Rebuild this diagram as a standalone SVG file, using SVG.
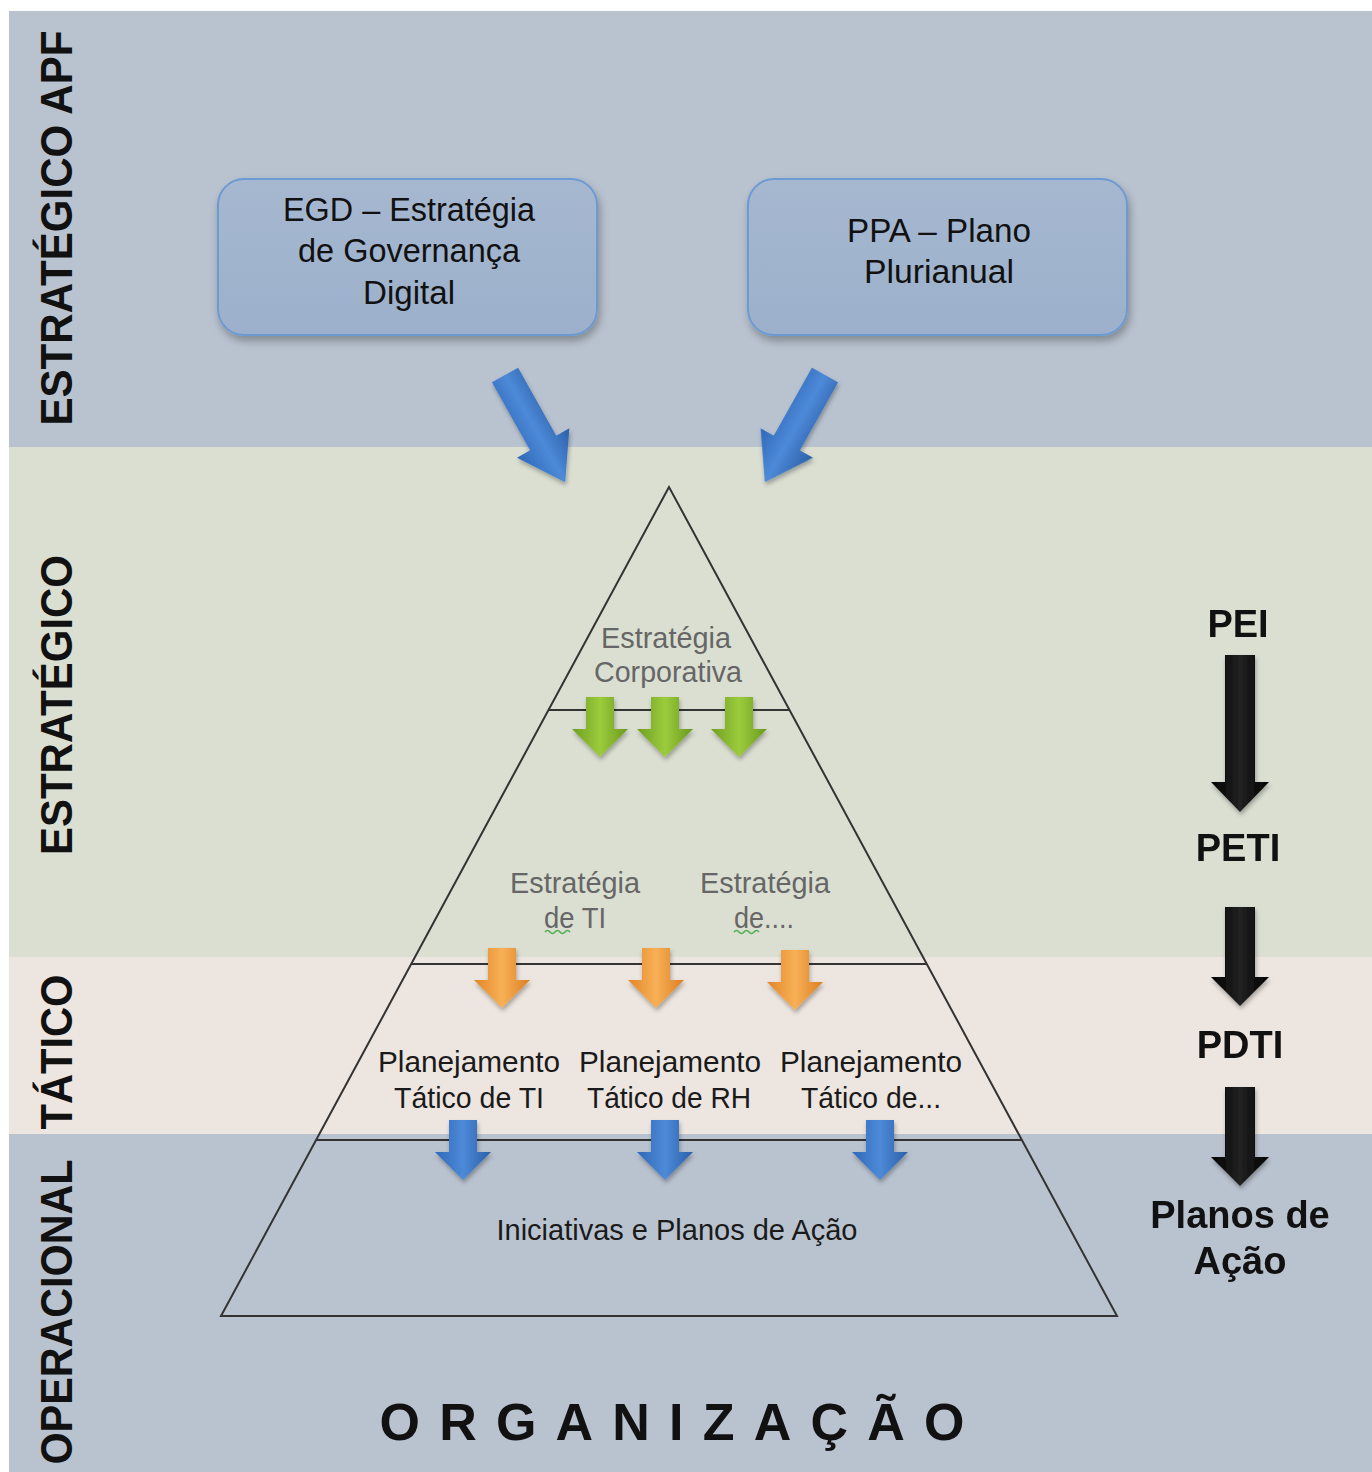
<svg xmlns="http://www.w3.org/2000/svg" width="1372" height="1472" viewBox="0 0 1372 1472">
<defs>
<style>
.band-lbl{font-family:"Liberation Sans",Arial,sans-serif;font-size:44px;font-weight:bold;fill:#111;text-anchor:middle}
.box-t{font-family:"Liberation Sans",Arial,sans-serif;font-size:33px;fill:#111;text-anchor:middle}
.pg{font-family:"Liberation Sans",Arial,sans-serif;font-size:29px;fill:#666;text-anchor:middle}
.pd{font-family:"Liberation Sans",Arial,sans-serif;font-size:29px;fill:#1a1a1a;text-anchor:middle}
.rt{font-family:"Liberation Sans",Arial,sans-serif;font-size:38px;font-weight:bold;fill:#111;text-anchor:middle}
.pl{stroke:#333;stroke-width:2;fill:none}
.sq{stroke:#4caf50;stroke-width:1.5;fill:none}
</style>
<filter id="sh" x="-10%" y="-10%" width="120%" height="130%"><feDropShadow dx="2" dy="5" stdDeviation="4" flood-color="#000" flood-opacity="0.3"/></filter>
<filter id="ash" x="-30%" y="-30%" width="160%" height="160%"><feDropShadow dx="1" dy="3" stdDeviation="2" flood-color="#000" flood-opacity="0.3"/></filter>
<linearGradient id="gBlue" x1="0" y1="0" x2="1" y2="0"><stop offset="0" stop-color="#2f68b8"/><stop offset="0.5" stop-color="#4d8ad8"/><stop offset="1" stop-color="#2b5fa8"/></linearGradient>
<linearGradient id="gGreen" x1="0" y1="0" x2="1" y2="0"><stop offset="0" stop-color="#6e9e22"/><stop offset="0.5" stop-color="#9ccc3c"/><stop offset="1" stop-color="#6a981e"/></linearGradient>
<linearGradient id="gOrange" x1="0" y1="0" x2="1" y2="0"><stop offset="0" stop-color="#e2862a"/><stop offset="0.5" stop-color="#f8b056"/><stop offset="1" stop-color="#dc7f24"/></linearGradient>
<linearGradient id="gBlack" x1="0" y1="0" x2="1" y2="0"><stop offset="0" stop-color="#000"/><stop offset="0.5" stop-color="#222"/><stop offset="1" stop-color="#000"/></linearGradient>
<linearGradient id="gBox" x1="0" y1="0" x2="0" y2="1"><stop offset="0" stop-color="#a6b8d0"/><stop offset="1" stop-color="#9cb0cb"/></linearGradient>
<path id="darr" d="M-14,0 H14 V32 H28 L0,60 L-28,32 H-14 Z"/>
</defs>

<rect x="0" y="0" width="1372" height="1472" fill="#fff"/>
<g id="bands">
<rect x="9" y="11" width="1363" height="436" fill="#b9c3cf"/>
<rect x="9" y="447" width="1363" height="510" fill="#dbdfd2"/>
<rect x="9" y="957" width="1363" height="177" fill="#ede5df"/>
<rect x="9" y="1134" width="1363" height="338" fill="#b9c3cf"/>
</g>

<g id="band-labels">
<text class="band-lbl" transform="translate(72,228) rotate(-90)" textLength="395" lengthAdjust="spacingAndGlyphs">ESTRATÉGICO APF</text>
<text class="band-lbl" transform="translate(72,705) rotate(-90)" textLength="300" lengthAdjust="spacingAndGlyphs">ESTRATÉGICO</text>
<text class="band-lbl" transform="translate(72,1052) rotate(-90)" textLength="155" lengthAdjust="spacingAndGlyphs">TÁTICO</text>
<text class="band-lbl" transform="translate(72,1312) rotate(-90)" textLength="305" lengthAdjust="spacingAndGlyphs">OPERACIONAL</text>
</g>

<g id="node-egd">
<rect x="218" y="179" width="379" height="156" rx="26" fill="url(#gBox)" stroke="#6c9ad2" stroke-width="2" filter="url(#sh)"/>
<text class="box-t" x="409" y="221" textLength="252" lengthAdjust="spacingAndGlyphs">EGD – Estratégia</text>
<text class="box-t" x="409" y="262" textLength="222" lengthAdjust="spacingAndGlyphs">de Governança</text>
<text class="box-t" x="409" y="304" textLength="92" lengthAdjust="spacingAndGlyphs">Digital</text>
</g>

<g id="node-ppa">
<rect x="748" y="179" width="379" height="156" rx="26" fill="url(#gBox)" stroke="#6c9ad2" stroke-width="2" filter="url(#sh)"/>
<text class="box-t" x="939" y="242" textLength="184" lengthAdjust="spacingAndGlyphs">PPA – Plano</text>
<text class="box-t" x="939" y="283" textLength="150" lengthAdjust="spacingAndGlyphs">Plurianual</text>
</g>

<g id="pyramid">
<path class="pl" d="M669,487 L221,1316 L1117,1316 Z"/>
<line class="pl" x1="548" y1="710" x2="790" y2="710"/>
<line class="pl" x1="411" y1="964" x2="927" y2="964"/>
<line class="pl" x1="316" y1="1140" x2="1022" y2="1140"/>
</g>

<g id="pyr-texts">
<text class="pg" x="666" y="648" textLength="130" lengthAdjust="spacingAndGlyphs">Estratégia</text>
<text class="pg" x="668" y="682" textLength="148" lengthAdjust="spacingAndGlyphs">Corporativa</text>
<text class="pg" x="575" y="893" textLength="130" lengthAdjust="spacingAndGlyphs">Estratégia</text>
<text class="pg" x="575" y="928" textLength="62" lengthAdjust="spacingAndGlyphs">de TI</text>
<path class="sq" d="M545,932 q2.5,-3 5,0 t5,0 t5,0 t5,0 t5,0"/>
<text class="pg" x="765" y="893" textLength="130" lengthAdjust="spacingAndGlyphs">Estratégia</text>
<text class="pg" x="764" y="928" textLength="60" lengthAdjust="spacingAndGlyphs">de....</text>
<path class="sq" d="M734,932 q2.5,-3 5,0 t5,0 t5,0 t5,0 t5,0"/>
<text class="pd" x="469" y="1072" textLength="182" lengthAdjust="spacingAndGlyphs">Planejamento</text>
<text class="pd" x="469" y="1108" textLength="150" lengthAdjust="spacingAndGlyphs">Tático de TI</text>
<text class="pd" x="670" y="1072" textLength="182" lengthAdjust="spacingAndGlyphs">Planejamento</text>
<text class="pd" x="669" y="1108" textLength="164" lengthAdjust="spacingAndGlyphs">Tático de RH</text>
<text class="pd" x="871" y="1072" textLength="182" lengthAdjust="spacingAndGlyphs">Planejamento</text>
<text class="pd" x="871" y="1108" textLength="140" lengthAdjust="spacingAndGlyphs">Tático de...</text>
<text class="pd" x="677" y="1240" textLength="361" lengthAdjust="spacingAndGlyphs">Iniciativas e Planos de Ação</text>
</g>

<g id="connectors">
<g filter="url(#ash)">
<path fill="url(#gBlue)" d="M-15,0 H15 V78 H30 L0,123 L-30,78 H-15 Z" transform="translate(505,375) rotate(-29.3)"/>
<path fill="url(#gBlue)" d="M-15,0 H15 V78 H30 L0,123 L-30,78 H-15 Z" transform="translate(825,375) rotate(29.3)"/>
<use href="#darr" fill="url(#gGreen)" transform="translate(600,697)"/>
<use href="#darr" fill="url(#gGreen)" transform="translate(665,697)"/>
<use href="#darr" fill="url(#gGreen)" transform="translate(739,697)"/>
<use href="#darr" fill="url(#gOrange)" transform="translate(502,948)"/>
<use href="#darr" fill="url(#gOrange)" transform="translate(656,948)"/>
<use href="#darr" fill="url(#gOrange)" transform="translate(795,950)"/>
<use href="#darr" fill="url(#gBlue)" transform="translate(463,1120)"/>
<use href="#darr" fill="url(#gBlue)" transform="translate(665,1120)"/>
<use href="#darr" fill="url(#gBlue)" transform="translate(880,1120)"/>
<path fill="url(#gBlack)" d="M1225,655 H1255 V782 H1269 L1240,812 L1211,782 H1225 Z"/>
<path fill="url(#gBlack)" d="M1225,907 H1255 V977 H1269 L1240,1006 L1211,977 H1225 Z"/>
<path fill="url(#gBlack)" d="M1225,1087 H1255 V1157 H1269 L1240,1186 L1211,1157 H1225 Z"/>
</g>
</g>

<g id="right-labels">
<text class="rt" x="1238" y="637">PEI</text>
<text class="rt" x="1238" y="861">PETI</text>
<text class="rt" x="1240" y="1058">PDTI</text>
<text class="rt" x="1240" y="1228">Planos de</text>
<text class="rt" x="1240" y="1274">Ação</text>
</g>

<g id="title">
<text x="672" y="1440" font-family="'Liberation Sans',Arial,sans-serif" font-size="52" font-weight="bold" fill="#111" text-anchor="middle" textLength="585" lengthAdjust="spacing">ORGANIZAÇÃO</text>
</g>
</svg>
